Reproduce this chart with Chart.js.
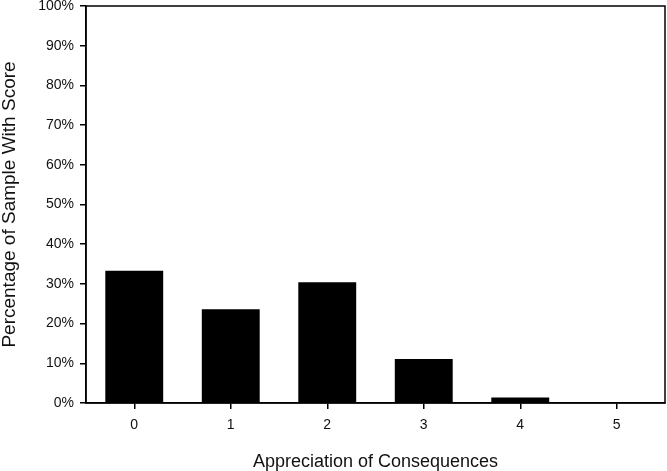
<!DOCTYPE html>
<html>
<head>
<meta charset="utf-8">
<script src="https://cdn.jsdelivr.net/npm/chart.js@4"></script>
<style>
  body { margin: 0; background: #fff; }
  #wrap { width: 667px; height: 471px; }
</style>
</head>
<body>
<div id="wrap"><canvas id="scoreChart"></canvas></div>
<script>
"use strict";

let scoreLabels = ['0', '1', '2', '3', '4', '5'];
let percentValues = [33.3, 23.6, 30.4, 11.1, 1.4, 0];
let yTicks = [0, 10, 20, 30, 40, 50, 60, 70, 80, 90, 100];

let ctx = document.getElementById('scoreChart').getContext('2d');

// box around the plot area (top + right edges)
const frameBox = {
    id: 'frameBox',
    afterDraw(chart) {
        let a = chart.chartArea;
        let c = chart.ctx;
        c.save();
        c.strokeStyle = '#000';
        c.lineWidth = 1.5;
        c.strokeRect(a.left, a.top, a.right - a.left, a.bottom - a.top);
        c.restore();
    }
};

const config = {
    type: 'bar',
    data: {
        labels: scoreLabels,
        datasets: [{
            data: percentValues,
            backgroundColor: '#000',
            borderWidth: 0,
            barPercentage: 0.6,
            categoryPercentage: 1.0
        }]
    },
    options: {
        responsive: true,
        maintainAspectRatio: false,
        animation: false,
        layout: { padding: { top: 6, right: 2, left: 0, bottom: 0 } },
        plugins: {
            legend: { display: false },
            tooltip: { enabled: false }
        },
        scales: {
            x: {
                offset: true,
                grid: { display: true, drawOnChartArea: false, tickLength: 6, color: '#000', lineWidth: 1.5, offset: false },
                border: { color: '#000', width: 1.5 },
                ticks: { color: '#111', font: { family: 'Liberation Sans', size: 14 }, padding: 8 },
                title: {
                    display: true,
                    text: 'Appreciation of Consequences',
                    color: '#111',
                    font: { family: 'Liberation Sans', size: 18, lineHeight: 1.0 },
                    padding: { top: 16, bottom: 0 }
                },
                afterFit(scale) { scale.height = 68; }
            },
            y: {
                min: 0,
                max: 100,
                afterBuildTicks(scale) {
                    scale.ticks = yTicks.map(v => ({ value: v }));
                },
                grid: { display: true, drawOnChartArea: false, tickLength: 6, color: '#000', lineWidth: 1.5 },
                border: { color: '#000', width: 1.5 },
                ticks: {
                    color: '#111',
                    font: { family: 'Liberation Sans', size: 14 },
                    padding: 6,
                    callback: v => v + '%'
                },
                title: {
                    display: true,
                    text: 'Percentage of Sample With Score',
                    color: '#111',
                    font: { family: 'Liberation Sans', size: 19, lineHeight: 1.0 },
                    padding: { top: 0, bottom: 6 }
                },
                afterFit(scale) {
                    scale.width = 86;
                    scale.paddingTop = 0;
                }
            }
        }
    },
    plugins: [frameBox]
};

new Chart(ctx, config);
</script>
</body>
</html>
